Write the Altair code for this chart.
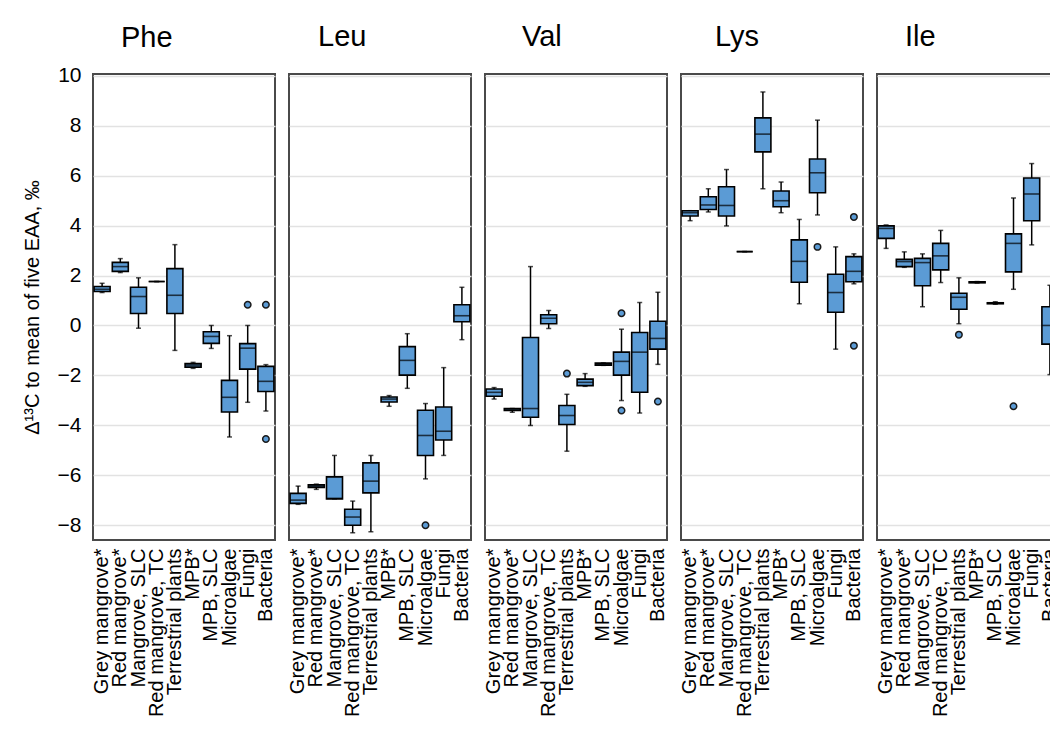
import altair as alt
import pandas as pd

CATEGORIES = [
    "Grey mangrove*", "Red mangrove*", "Mangrove, SLC", "Red mangrove, TC",
    "Terrestrial plants", "MPB*", "MPB, SLC", "Microalgae", "Fungi", "Bacteria",
]
AMINO_ACIDS = ["Phe", "Leu", "Val", "Lys", "Ile"]

# lower whisker, Q1, median, Q3, upper whisker (per category)
PHE_LO = [1.32, 2.12, -0.11, 1.76, -1.00, -1.72, -0.92, -4.47, -3.08, -3.43]
PHE_Q1 = [1.36, 2.17, 0.48, 1.76, 0.48, -1.67, -0.72, -3.47, -1.75, -2.65]
PHE_MED = [1.45, 2.36, 1.16, 1.76, 1.21, -1.59, -0.44, -2.88, -0.91, -2.24]
PHE_Q3 = [1.56, 2.53, 1.53, 1.76, 2.28, -1.53, -0.25, -2.20, -0.73, -1.64]
PHE_HI = [1.69, 2.68, 1.91, 1.76, 3.24, -1.48, 0.00, -0.41, 0.00, -1.57]
PHE_OUT = [("Fungi", 0.83), ("Bacteria", 0.83), ("Bacteria", -4.55)]

LEU_LO = [-7.17, -6.57, -6.95, -8.31, -8.27, -3.24, -2.52, -6.15, -5.21, -0.57]
LEU_Q1 = [-7.13, -6.49, -6.95, -8.01, -6.71, -3.07, -1.99, -5.21, -4.59, 0.15]
LEU_MED = [-7.00, -6.44, -6.93, -7.68, -6.24, -2.95, -1.40, -4.41, -4.24, 0.39]
LEU_Q3 = [-6.73, -6.39, -6.07, -7.37, -5.51, -2.87, -0.85, -3.40, -3.27, 0.83]
LEU_HI = [-6.44, -6.36, -5.21, -7.04, -5.21, -2.81, -0.33, -3.13, -1.69, 1.53]
LEU_OUT = [("Microalgae", -8.01)]

VAL_LO = [-2.95, -3.48, -4.01, -0.12, -5.04, -2.44, -1.60, -3.01, -3.51, -1.56]
VAL_Q1 = [-2.84, -3.41, -3.68, 0.07, -3.97, -2.41, -1.59, -1.99, -2.68, -0.95]
VAL_MED = [-2.68, -3.37, -3.33, 0.29, -3.61, -2.28, -1.55, -1.44, -1.07, -0.52]
VAL_Q3 = [-2.55, -3.33, -0.48, 0.43, -3.21, -2.15, -1.51, -1.07, -0.28, 0.17]
VAL_HI = [-2.49, -3.33, 2.36, 0.60, -2.76, -1.93, -1.50, -0.15, 0.92, 1.33]
VAL_OUT = [("Terrestrial plants", -1.93), ("Microalgae", 0.49),
           ("Microalgae", -3.41), ("Bacteria", -3.05)]

LYS_LO = [4.20, 4.55, 3.99, 2.96, 5.48, 4.52, 0.87, 4.43, -0.95, 1.67]
LYS_Q1 = [4.39, 4.65, 4.39, 2.96, 6.96, 4.76, 1.73, 5.32, 0.53, 1.75]
LYS_MED = [4.52, 4.83, 4.81, 2.96, 7.67, 5.00, 2.57, 6.12, 1.32, 2.17]
LYS_Q3 = [4.60, 5.16, 5.56, 2.96, 8.32, 5.39, 3.43, 6.67, 2.05, 2.76]
LYS_HI = [4.60, 5.48, 6.25, 2.96, 9.36, 5.75, 4.25, 8.23, 3.15, 2.87]
LYS_OUT = [("Microalgae", 3.15), ("Bacteria", 4.35), ("Bacteria", -0.81)]

ILE_LO = [3.09, 2.33, 0.75, 1.72, 0.07, 1.70, 0.85, 1.45, 3.23, -1.97]
ILE_Q1 = [3.49, 2.36, 1.59, 2.23, 0.65, 1.71, 0.87, 2.15, 4.20, -0.75]
ILE_MED = [3.89, 2.56, 2.52, 2.79, 1.13, 1.73, 0.89, 3.29, 5.27, 0.00]
ILE_Q3 = [3.99, 2.65, 2.69, 3.29, 1.29, 1.75, 0.91, 3.67, 5.91, 0.75]
ILE_HI = [4.03, 2.95, 2.87, 3.81, 1.91, 1.76, 0.95, 5.11, 6.49, 1.61]
ILE_OUT = [("Terrestrial plants", -0.37), ("Microalgae", -3.24)]

Y_TICKS = [-8, -6, -4, -2, 0, 2, 4, 6, 8, 10]
Y_TITLE = "Δ¹³C to mean of five EAA, ‰"
TITLE_DX = [28, 29, 37, 34, 28]
TITLE_OFFSET = [11.5, 22, 22, 22, 22]

STATS = {
    "Phe": (PHE_LO, PHE_Q1, PHE_MED, PHE_Q3, PHE_HI, PHE_OUT),
    "Leu": (LEU_LO, LEU_Q1, LEU_MED, LEU_Q3, LEU_HI, LEU_OUT),
    "Val": (VAL_LO, VAL_Q1, VAL_MED, VAL_Q3, VAL_HI, VAL_OUT),
    "Lys": (LYS_LO, LYS_Q1, LYS_MED, LYS_Q3, LYS_HI, LYS_OUT),
    "Ile": (ILE_LO, ILE_Q1, ILE_MED, ILE_Q3, ILE_HI, ILE_OUT),
}

FONT = "Liberation Sans"
BLUE = "#5b9bd5"
PAD_LEFT = 93
PAD_TOP = 74


def panel(i, aa):
    lo, q1, med, q3, hi, out = STATS[aa]
    df = pd.DataFrame({"cat": CATEGORIES, "lo": lo, "q1": q1, "med": med,
                       "q3": q3, "hi": hi})
    odf = pd.DataFrame({"cat": [o[0] for o in out], "v": [o[1] for o in out]})

    x = alt.X(
        "cat:N",
        scale=alt.Scale(domain=CATEGORIES, paddingInner=0, paddingOuter=0),
        axis=alt.Axis(title=None, labelAngle=-90, labelAlign="right",
                      labelBaseline="middle", labelFontSize=20,
                      labelFont=FONT, labelColor="black", labelPadding=8,
                      labelOverlap=False, labelLimit=300, ticks=False,
                      domain=False, grid=False),
    )
    yscale = alt.Scale(domain=[-8.6, 10.08], nice=False, zero=False)
    if i == 0:
        yaxis = alt.Axis(values=Y_TICKS, title=Y_TITLE, titleFontSize=20,
                         titleFont=FONT, titleFontWeight="normal",
                         titleColor="black", titlePadding=15,
                         labelFontSize=21, labelFont=FONT, labelColor="black",
                         labelPadding=12, ticks=False, domain=False,
                         grid=True, gridColor="#e2e2e2", gridWidth=1.5)
    else:
        yaxis = alt.Axis(values=Y_TICKS, title=None, labels=False,
                         ticks=False, domain=False, grid=True,
                         gridColor="#e2e2e2", gridWidth=1.5)

    base = alt.Chart(df)
    whisker = base.mark_rule(color="black", strokeWidth=1.5).encode(
        x=x, y=alt.Y("lo:Q", scale=yscale, axis=yaxis), y2="hi:Q")
    cap_lo = base.mark_tick(color="black", size=5, thickness=1.5).encode(
        x=x, y=alt.Y("lo:Q", scale=yscale))
    cap_hi = base.mark_tick(color="black", size=5, thickness=1.5).encode(
        x=x, y=alt.Y("hi:Q", scale=yscale))
    box = base.mark_bar(size=16, fill=BLUE, stroke="black",
                        strokeWidth=1.6).encode(
        x=x, y=alt.Y("q1:Q", scale=yscale), y2="q3:Q")
    median = base.mark_tick(color="black", size=16, thickness=1.6).encode(
        x=x, y=alt.Y("med:Q", scale=yscale))
    outliers = alt.Chart(odf).mark_circle(
        color=BLUE, stroke="#1a1a1a", strokeWidth=1.5, size=42, opacity=1
    ).encode(x=x, y=alt.Y("v:Q", scale=yscale))

    return alt.layer(whisker, cap_lo, cap_hi, box, median, outliers).properties(
        width=182, height=466,
        title=alt.TitleParams(aa, fontSize=29, font=FONT, fontWeight="normal",
                              color="black", anchor="start", frame="group",
                              dx=TITLE_DX[i], offset=TITLE_OFFSET[i]),
    )


chart = alt.hconcat(*[panel(i, aa) for i, aa in enumerate(AMINO_ACIDS)],
                    spacing=9).properties(
    autosize=alt.AutoSizeParams(type="none"),
    padding={"left": PAD_LEFT, "top": PAD_TOP,
             "right": 1050 - PAD_LEFT, "bottom": 729 - PAD_TOP},
    background="white",
).configure_view(stroke="#4a4a4a", strokeWidth=2)

chart.save("out.html", embed_options={"renderer": "svg", "actions": False})
